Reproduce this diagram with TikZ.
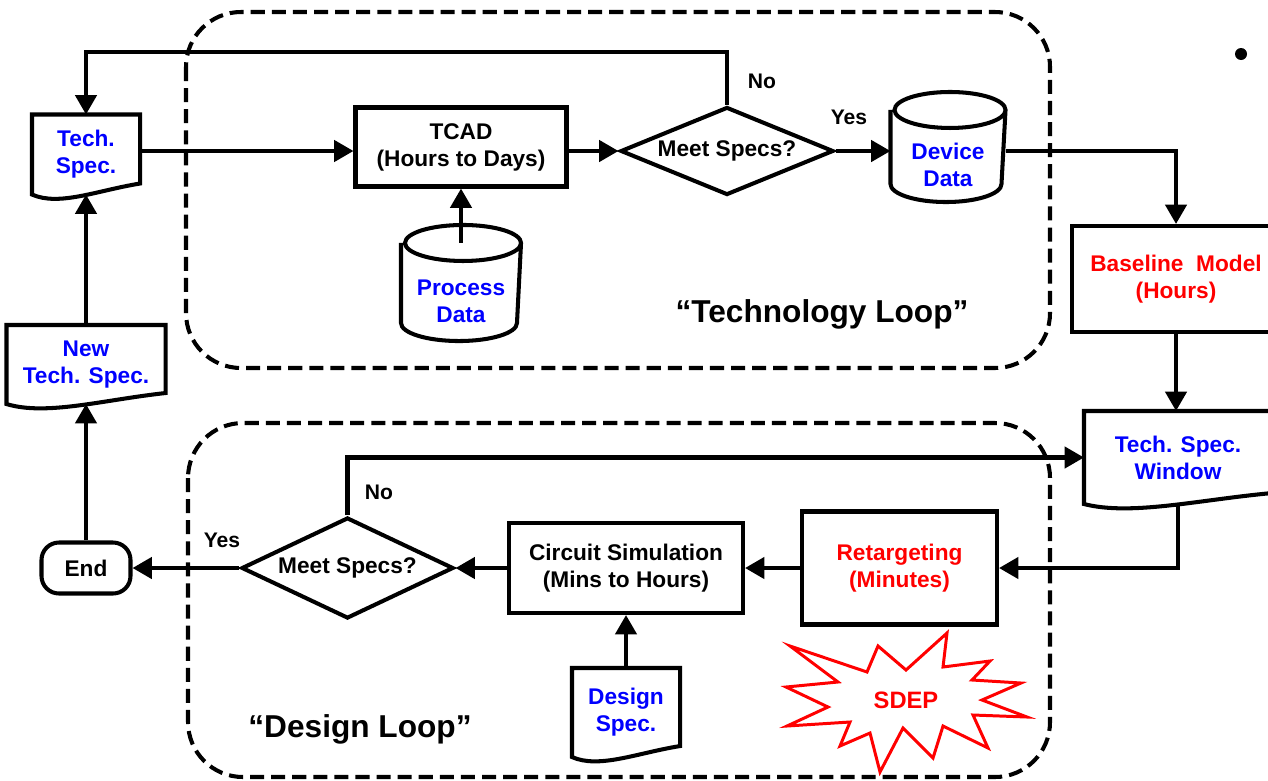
\documentclass[tikz,border=0pt]{standalone}
\usepackage{fontspec}
\setmainfont{Liberation Sans}
\usetikzlibrary{shapes,arrows.meta,positioning,calc}
\newcommand{\px}{0.2mm}
\definecolor{specblue}{RGB}{0,0,255}
\definecolor{fastred}{RGB}{255,0,0}
\tikzset{
	block/.style = {draw, rectangle, align=center, inner sep=0pt},
	doc/.style = {rectangle, align=center, inner sep=0pt, text=specblue},
	dbase/.style = {rectangle, align=center, inner sep=0pt, text=specblue},
	decision/.style = {draw, diamond, aspect=2.4, inner sep=0pt},
	terminal/.style = {draw, rectangle, rounded corners=3.5mm, inner sep=0pt},
	loopbox/.style = {draw, dash pattern=on 8pt off 4pt, rounded corners=11mm},
	looplabel/.style = {font=\bfseries\fontsize{18}{20}\selectfont},
	answer/.style = {font=\bfseries\fontsize{12}{14}\selectfont},
	line/.style = {-{Triangle[length=11pt,width=12pt]}},
	burst/.style = {draw=fastred, line width=1.7pt}
}

\begin{document}
\begin{tikzpicture}[x=\px, y=\px, line width=2.3pt, font=\bfseries\fontsize{12.9}{15.4}\selectfont]
	\useasboundingbox (0,0) rectangle (1268,-780);

	% technology loop
	\draw [loopbox] (186,-12) rectangle (1050,-368);
	\node [block, minimum width=211*\px, minimum height=79*\px] (tcad) at (461,-147) {TCAD\\(Hours to Days)};
	\node [dbase, minimum width=116*\px, minimum height=76*\px] (procdata) at (461,-301) {Process\\Data};
	\node [decision, minimum width=213*\px, minimum height=88*\px] (meet1) at (727,-151) {Meet Specs?};
	\node [dbase, minimum width=111*\px, minimum height=70*\px] (devdata) at (948,-165) {Device\\Data};
	\node [looplabel, anchor=base] (techloop) at (822,-322) {“Technology Loop”};

	% left column
	\node [doc, minimum width=104*\px, minimum height=76*\px] (techspec) at (86,-154.5) {Tech.\\Spec.};
	\node [doc, minimum width=155*\px, minimum height=75*\px] (newspec) at (86,-364.5) {New\\Tech. Spec.};
	\node [terminal, minimum width=89*\px, minimum height=51*\px] (endnode) at (86,-568) {End};

	% right column
	\node [block, text=fastred, minimum width=208*\px, minimum height=106*\px] (baseline) at (1176,-279) {Baseline~ Model\\(Hours)};
	\node [doc, minimum width=184*\px, minimum height=89*\px] (window) at (1178,-457.5) {Tech. Spec.\\Window};

	% design loop
	\draw [loopbox] (188,-423) rectangle (1050,-777);
	\node [block, text=fastred, minimum width=195*\px, minimum height=113*\px] (retarget) at (899.5,-568) {Retargeting\\(Minutes)};
	\node [block, minimum width=234*\px, minimum height=90*\px] (circuit) at (626,-568) {Circuit Simulation\\(Mins to Hours)};
	\node [doc, minimum width=104*\px, minimum height=85*\px] (designspec) at (626,-712.5) {Design\\Spec.};
	\node [decision, minimum width=212*\px, minimum height=101*\px] (meet2) at (347.5,-568) {Meet Specs?};
	\node [looplabel, anchor=base] (designloop) at (360,-737) {“Design Loop”};

	% document outlines
	\foreach \n in {techspec,newspec,window,designspec}
		\draw (\n.north west) -- (\n.north east) -- ($(\n.south east)+(0,11)$)
			.. controls ($(\n.south west)!0.6!(\n.south east)+(0,4)$) and ($(\n.south west)!0.25!(\n.south east)+(0,-12)$) .. (\n.south west) -- cycle;

	% cylinder outlines
	\foreach \n/\r in {procdata/58, devdata/55.5}
		\draw ($(\n.north west)+(0,18)$) -- ($(\n.south west)+(0,18)$)
			arc[start angle=180, end angle=360, x radius=\r, y radius=18]
			-- ($(\n.north east)+(0,18)$)
			arc[start angle=0, end angle=360, x radius=\r, y radius=18];

	% SDEP burst
	\draw [burst] (947,-633) -- (943,-667) -- (990,-661) -- (972,-680) -- (1021,-683) -- (982,-700)
		-- (1027,-717) -- (973,-715) -- (988,-748) -- (943,-726) -- (933,-758) -- (903,-728)
		-- (880,-772) -- (870,-733) -- (840,-746) -- (850,-722) -- (787,-726) -- (828,-707)
		-- (786,-687) -- (838,-682) -- (790,-646) -- (867,-672) -- (878,-646) -- (906,-670) -- cycle;
	\node [text=fastred, font=\bfseries\fontsize{13.5}{15}\selectfont] (sdep) at (906,-700) {SDEP};

	% flow
	\draw [line] (meet1.north) -- ++(0,53) -| (techspec.north);
	\draw [line] (techspec.east |- meet1.west) -- (tcad.west |- meet1.west);
	\draw [line] ($(procdata.north)+(0,18)$) -- (tcad.south);
	\draw [line] (tcad.east |- meet1.west) -- (meet1.west);
	\draw [line] (meet1.east) -- (meet1.east -| devdata.west);
	\draw [line] (devdata.east |- meet1.east) -| (baseline.north);
	\draw [line] (baseline.south) -- (baseline.south |- window.north);
	\draw [line] (window.south) |- (retarget.east);
	\draw [line] (retarget.west) -- (circuit.east);
	\draw [line] (designspec.north) -- (circuit.south);
	\draw [line] (circuit.west) -- (meet2.east);
	\draw [line] (meet2.west) -- (endnode.east);
	\draw [line] (meet2.north) |- (window.west);
	\draw [line] (endnode.north) -- (newspec.south);
	\draw [line] (newspec.north) -- (techspec.south);

	\node [answer] (no1) at (762,-81) {No};
	\node [answer] (yes1) at (849,-117) {Yes};
	\node [answer] (no2) at (379,-492) {No};
	\node [answer] (yes2) at (222,-540) {Yes};

	\fill (1241,-54) circle [radius=6];
\end{tikzpicture}
\end{document}
